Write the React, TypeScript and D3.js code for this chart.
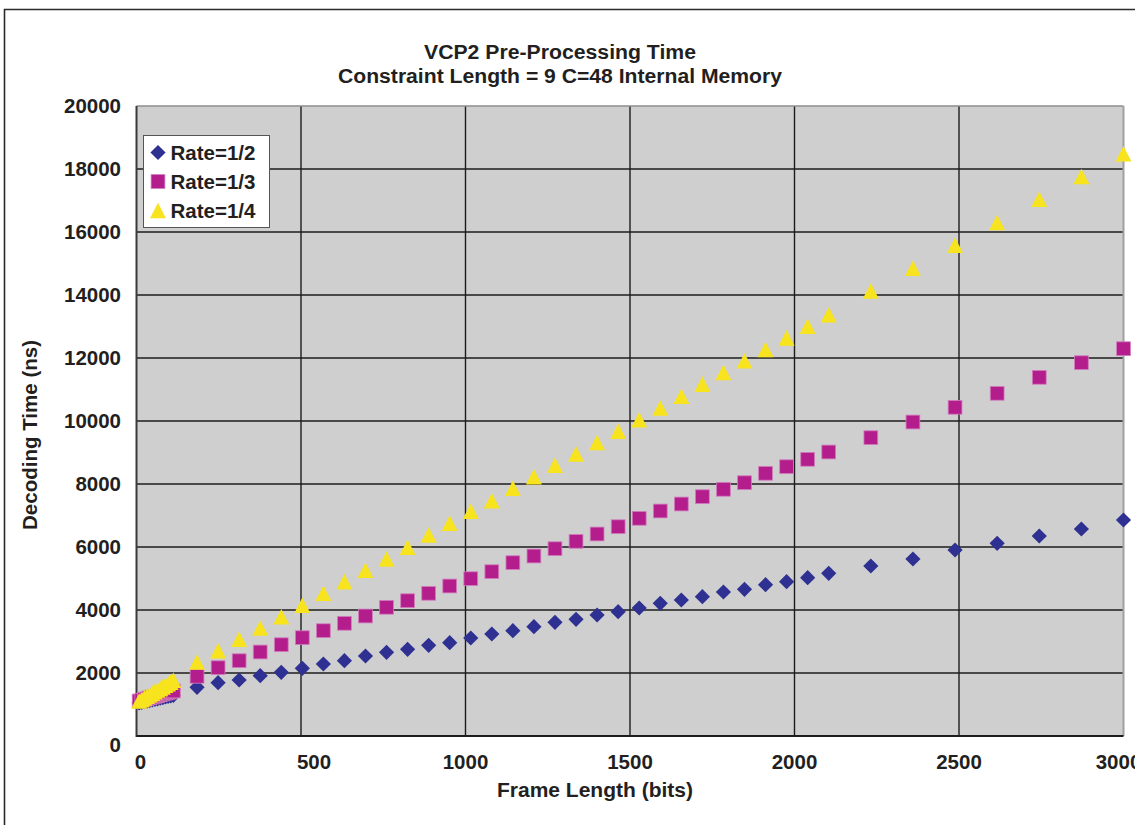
import React from "react";
import * as d3 from "d3";

const frameLength = [
  8, 16, 24, 32, 40, 48, 56, 64, 72, 80, 88, 96, 104, 112,
  184, 248, 312, 376, 440, 504, 568, 632, 696, 760, 824, 888, 952, 1016, 1080,
  1144, 1208, 1272, 1336, 1400, 1464, 1528, 1592, 1656, 1720, 1784, 1848, 1912,
  1976, 2040, 2104, 2232, 2360, 2488, 2616, 2744, 2872, 3000,
];

const rateHalf = [
  1050, 1070, 1090, 1105, 1125, 1145, 1165, 1180, 1200, 1220, 1240, 1255, 1275, 1290,
  1546, 1692, 1778, 1914, 2022, 2149, 2286, 2390, 2540, 2657, 2752, 2879, 2962, 3111, 3238,
  3343, 3470, 3610, 3705, 3841, 3946, 4063, 4213, 4317, 4422, 4571, 4657, 4803,
  4898, 5025, 5165, 5397, 5619, 5905, 6117, 6349, 6571, 6857,
];

const rateThird = [
  1110, 1135, 1160, 1185, 1210, 1235, 1260, 1285, 1310, 1335, 1360, 1385, 1405, 1430,
  1895, 2168, 2390, 2667, 2898, 3121, 3343, 3578, 3810, 4086, 4295, 4530, 4762, 4994, 5216,
  5502, 5714, 5946, 6180, 6413, 6644, 6911, 7143, 7365, 7597, 7832, 8041, 8340,
  8549, 8784, 9016, 9470, 9968, 10435, 10879, 11387, 11851, 12295,
];

const rateQuarter = [
  1110, 1160, 1210, 1260, 1310, 1360, 1410, 1460, 1510, 1560, 1610, 1660, 1710, 1770,
  2349, 2708, 3070, 3429, 3787, 4149, 4530, 4898, 5260, 5619, 5990, 6380, 6757, 7133, 7470,
  7863, 8232, 8594, 8952, 9317, 9673, 10041, 10413, 10784, 11170, 11545, 11915, 12270,
  12640, 13010, 13375, 14127, 14847, 15578, 16302, 17041, 17762, 18486,
];

const seriesNames = ["Rate=1/2", "Rate=1/3", "Rate=1/4"];
const xTicks = [0, 500, 1000, 1500, 2000, 2500, 3000];
const yTicks = [0, 2000, 4000, 6000, 8000, 10000, 12000, 14000, 16000, 18000, 20000];
const titleLines = ["VCP2 Pre-Processing Time", "Constraint Length = 9 C=48 Internal Memory"];
const xTitle = "Frame Length (bits)";
const yTitle = "Decoding Time (ns)";

const FONT = "'Liberation Sans', Arial, sans-serif";
const COLORS = ["#2E3192", "#B41E8C", "#F7E41E"];
const INK = "#231F20";

function Marker({ kind, x, y }: { kind: number; x: number; y: number }) {
  if (kind === 0) {
    const h = 7.6;
    return <path d={`M${x},${y - h}L${x + h},${y}L${x},${y + h}L${x - h},${y}Z`} fill={COLORS[0]} />;
  }
  if (kind === 1) {
    const h = 6.9;
    return (
      <rect x={x - h} y={y - h} width={2 * h} height={2 * h} fill={COLORS[1]} stroke="#D27DBE" strokeWidth={0.8} />
    );
  }
  const w = 8;
  const hh = 7.8;
  return <path d={`M${x},${y - hh}L${x + w},${y + hh}L${x - w},${y + hh}Z`} fill={COLORS[2]} />;
}

export default function App() {
  const x = d3.scaleLinear().domain([0, 3000]).range([136.5, 1123.5]);
  const y = d3.scaleLinear().domain([0, 20000]).range([736, 106]);
  const series = [rateHalf, rateThird, rateQuarter];
  const xLabelDx: Record<number, number> = { 0: 4, 500: 13, 3000: -5 };
  const titleWidths = [272, 444];

  return (
    <svg
      width={1135}
      height={825}
      style={{ position: "absolute", left: 0, top: 0, background: "#fff" }}
      fontFamily={FONT}
      fontWeight="bold"
    >
      {/* chart area border */}
      <path d="M4.5,830 L4.5,9.5 L1140,9.5" fill="none" stroke="#2a2a2a" strokeWidth={1.6} />

      {/* titles */}
      {titleLines.map((t, i) => (
        <text
          key={t}
          x={560}
          y={59 + i * 24}
          textAnchor="middle"
          fontSize={20}
          fill={INK}
          textLength={titleWidths[i]}
          lengthAdjust="spacingAndGlyphs"
        >
          {t}
        </text>
      ))}

      {/* plot area */}
      <rect x={x(0)} y={y(20000)} width={x(3000) - x(0)} height={y(0) - y(20000)} fill="#CFCFCF" />

      {yTicks
        .filter((v) => v > 0 && v < 20000)
        .map((v) => (
          <line key={"gy" + v} x1={x(0)} x2={x(3000)} y1={y(v)} y2={y(v)} stroke="#1c1c1c" strokeWidth={1.4} />
        ))}
      {xTicks
        .filter((v) => v > 0 && v < 3000)
        .map((v) => (
          <line key={"gx" + v} x1={x(v)} x2={x(v)} y1={y(20000)} y2={y(0)} stroke="#1c1c1c" strokeWidth={1.4} />
        ))}
      <line x1={x(0)} x2={x(3000)} y1={y(20000)} y2={y(20000)} stroke="#8c8c8c" strokeWidth={1.5} />
      <line x1={x(3000)} x2={x(3000)} y1={y(20000)} y2={y(0)} stroke="#a0a0a0" strokeWidth={2} />
      <line x1={x(0)} x2={x(0)} y1={y(20000)} y2={y(0) + 1} stroke="#3a3a3a" strokeWidth={2} />
      <line x1={x(0)} x2={x(3000)} y1={y(0)} y2={y(0)} stroke="#1c1c1c" strokeWidth={2} />

      {/* y tick labels */}
      {yTicks.map((v) => (
        <text key={"ly" + v} x={121} y={y(v) + (v === 0 ? 16 : 7.3)} textAnchor="end" fontSize={20.5} fill={INK}>
          {v}
        </text>
      ))}
      {/* x tick labels */}
      {xTicks.map((v) => (
        <text key={"lx" + v} x={x(v) + (xLabelDx[v] || 0)} y={769} textAnchor="middle" fontSize={20.5} fill={INK}>
          {v}
        </text>
      ))}

      {/* axis titles */}
      <text
        x={595}
        y={797}
        textAnchor="middle"
        fontSize={20}
        fill={INK}
        textLength={196}
        lengthAdjust="spacingAndGlyphs"
      >
        {xTitle}
      </text>
      <text
        transform="translate(37,435) rotate(-90)"
        textAnchor="middle"
        fontSize={20}
        fill={INK}
        textLength={190}
        lengthAdjust="spacingAndGlyphs"
      >
        {yTitle}
      </text>

      {/* markers */}
      {series.map((s, si) => (
        <g key={"s" + si}>
          {s.map((v, i) => (
            <Marker key={i} kind={si} x={x(frameLength[i])} y={y(v)} />
          ))}
        </g>
      ))}

      {/* legend */}
      <rect x={143.5} y={135.5} width={126} height={92} fill="#fff" stroke="#555" strokeWidth={1} />
      {seriesNames.map((n, i) => (
        <g key={n}>
          <Marker kind={i} x={158} y={152.5 + i * 29} />
          <text x={170.5} y={152.5 + i * 29 + 7.5} fontSize={20.5} fill={INK}>
            {n}
          </text>
        </g>
      ))}
    </svg>
  );
}
